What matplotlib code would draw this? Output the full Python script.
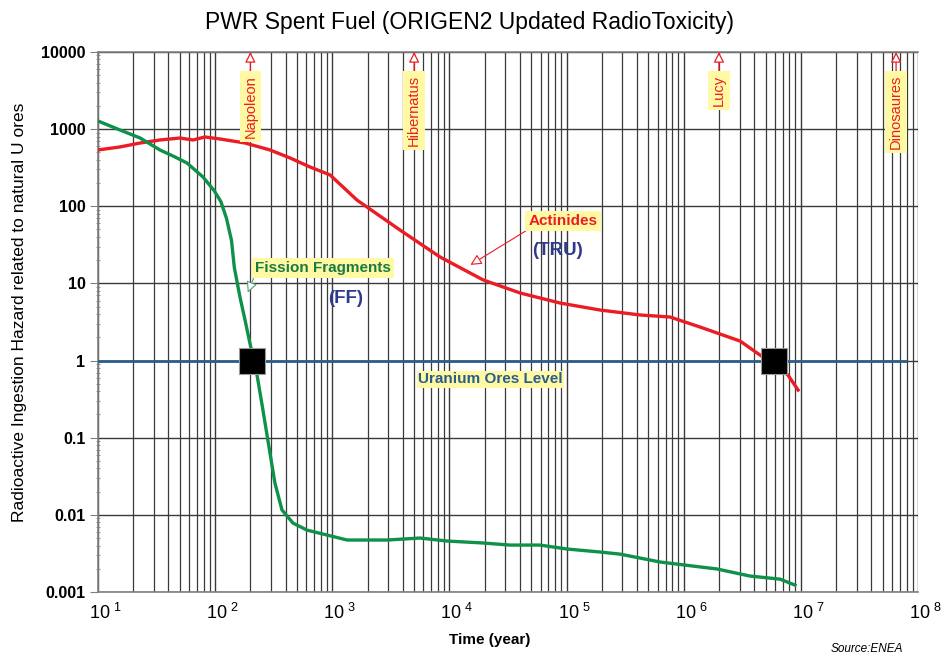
import matplotlib
matplotlib.use("Agg")
import numpy
from matplotlib import pyplot
from matplotlib.ticker import LogLocator, NullFormatter
from matplotlib.transforms import ScaledTranslation

pyplot.rcParams['font.family'] = ['Liberation Sans', 'DejaVu Sans']
pyplot.rcParams['mathtext.fontset'] = 'custom'
pyplot.rcParams['mathtext.rm'] = 'Liberation Sans'
pyplot.rcParams['mathtext.bf'] = 'Liberation Sans:bold'

# -----------------------------------------------------------------------------
# radiotoxicity data (years, hazard relative to natural U ores)
tru_years = [10, 15.4, 22.9, 33.8, 50.1, 64.7, 81.8, 110, 180, 294, 436, 646,
             957, 1630, 3780, 8320, 19400, 40100, 87900, 193000, 424000,
             764000, 1.38e6, 3.03e6, 4.48e6, 7.76e6, 9.47e6]
tru_hazard = [537, 587, 661, 723, 767, 723, 791, 745, 661, 537, 423, 323,
              255, 120, 49.3, 22.0, 11.1, 7.52, 5.57, 4.52, 3.90,
              3.67, 2.72, 1.79, 1.18, 0.65, 0.415]

ff_years = [10, 15.4, 22.9, 33.8, 45.4, 57.5, 78.7, 98, 112, 125, 138, 146,
            163, 180, 198, 228, 256, 294, 324, 372, 462, 608, 902, 1340,
            2930, 5610, 9530, 19400, 32900, 59300, 101000, 193000, 286000,
            628000, 1.2e6, 1.92e6, 3.68e6, 6.64e6, 8.91e6]
ff_hazard = [1276, 975, 767, 537, 436, 364, 240, 160, 115, 70, 36, 16,
             6.67, 3.36, 1.69, 0.65, 0.229, 0.0634, 0.0259, 0.0116, 0.00783,
             0.00635, 0.00548, 0.00472, 0.00472, 0.00501, 0.00458, 0.00432,
             0.00406, 0.00406, 0.00361, 0.00330, 0.00310, 0.00245, 0.00217,
             0.00199, 0.00161, 0.00147, 0.00123]

ore_level = 1.0
ore_range = [10, 7.8e7]
crossing_years = [206, 5.9e6]

# historical markers
events = ['Napoleon', 'Hibernatus', 'Lucy', 'Dinosaures']
event_years = [200, 5000, 2.0e6, 6.5e7]

x_decades = [1, 2, 3, 4, 5, 6, 7, 8]
y_ticks = [0.001, 0.01, 0.1, 1, 10, 100, 1000, 10000]
y_labels = ['0.001', '0.01', '0.1', '1', '10', '100', '1000', '10000']

red = '#ec1c24'
green = '#0e9148'
blue = '#2a5d8c'
navy = '#2e3a8c'
yellow = '#fff9a3'

# -----------------------------------------------------------------------------
fig = pyplot.figure(figsize=(9.51, 6.57), dpi=100)
ax = fig.add_axes([0.1030, 0.0989, 0.8623, 0.8220])

ax.set_xscale('log')
ax.set_yscale('log')
ax.set_xlim(10, 1e8)
ax.set_ylim(0.001, 10000)

# grid: every x line, only decades on y
ax.xaxis.set_major_locator(LogLocator(base=10, numticks=20))
ax.xaxis.set_minor_locator(LogLocator(base=10, subs=numpy.arange(2, 10), numticks=100))
ax.yaxis.set_minor_locator(LogLocator(base=10, subs=numpy.arange(2, 10), numticks=100))
ax.xaxis.set_minor_formatter(NullFormatter())
ax.yaxis.set_minor_formatter(NullFormatter())
ax.grid(which='major', axis='both', color='#3a3a3a', linewidth=1.0)
ax.grid(which='minor', axis='x', color='#3a3a3a', linewidth=0.9)
ax.set_axisbelow(True)

for side in ['top', 'left', 'bottom', 'right']:
    ax.spines[side].set_color('#808080')
    ax.spines[side].set_linewidth(1.2)
ax.spines['right'].set_visible(False)

ax.set_yticks(y_ticks)
ax.set_yticklabels(y_labels, fontsize=11.5, fontweight='bold')
ax.tick_params(axis='y', which='major', length=6, color='#808080', pad=3)
ax.tick_params(axis='y', which='minor', length=3, direction='inout', color='#808080')
ax.tick_params(axis='x', which='both', length=0, pad=8)

ax.set_xticks([10.0 ** k for k in x_decades])
ax.set_xticklabels([r'$\mathregular{10^{\ %d}}$' % k for k in x_decades], fontsize=13)
shift = ScaledTranslation(-0.09, 0, fig.dpi_scale_trans)
for lab in ax.get_xticklabels():
    lab.set_ha('left')
    lab.set_transform(lab.get_transform() + shift)

# curves
ax.plot(ore_range, [ore_level, ore_level], color=blue, linewidth=2.0, zorder=3)
ax.plot(tru_years, tru_hazard, color=red, linewidth=2.4, zorder=4)
ax.plot(ff_years, ff_hazard, color=green, linewidth=2.4, zorder=4)
ax.plot(crossing_years, [ore_level] * 2, 's', color='black', markersize=18.5,
        markeredgecolor='#9a9a9a', markeredgewidth=0.8, zorder=5)

# historical time markers along the top
for name, yr in zip(events, event_years):
    ax.annotate(name, xy=(yr, 10000), xytext=(yr, 10 ** 3.70),
                rotation=90, ha='center', va='top', color=red, fontsize=10.5,
                bbox=dict(boxstyle='square,pad=0.25', fc=yellow, ec='none'),
                arrowprops=dict(arrowstyle='-|>,head_length=0.6,head_width=0.3',
                                fc='white', ec=red, lw=0.9, shrinkA=0, shrinkB=0),
                zorder=6)

# curve labels
ax.annotate('Fission Fragments', xy=(190, 10 ** 0.88), xytext=(10 ** 2.34, 10 ** 1.20),
            ha='left', va='center', color='#1a7a44', fontsize=11, fontweight='bold',
            bbox=dict(boxstyle='square,pad=0.2', fc=yellow, ec='none'),
            arrowprops=dict(arrowstyle='-|>,head_length=0.6,head_width=0.3',
                            fc='white', ec='#5f9a7c', lw=0.8, relpos=(0.0, 0.0),
                            shrinkA=0, shrinkB=0),
            zorder=6)
ax.text(10 ** 3.11, 10 ** 0.80, '(FF)', ha='center', va='center', color=navy,
        fontsize=13.5, fontweight='bold', zorder=6)

ax.annotate('Actinides', xy=(10 ** 4.18, 10 ** 1.24), xytext=(10 ** 4.97, 10 ** 1.81),
            ha='center', va='center', color=red, fontsize=11, fontweight='bold',
            bbox=dict(boxstyle='square,pad=0.2', fc=yellow, ec='none'),
            arrowprops=dict(arrowstyle='-|>,head_length=0.6,head_width=0.3',
                            fc='white', ec=red, lw=0.8, relpos=(0.03, 0.0),
                            shrinkA=0, shrinkB=0),
            zorder=6)
ax.text(10 ** 4.92, 10 ** 1.43, '(TRU)', ha='center', va='center', color=navy,
        fontsize=13.5, fontweight='bold', zorder=6)

ax.text(10 ** 4.35, 10 ** -0.24, 'Uranium Ores Level', ha='center', va='center',
        color=blue, fontsize=11, fontweight='bold', zorder=6,
        bbox=dict(boxstyle='square,pad=0.1', fc=yellow, ec='none'))

# titles
fig.text(0.494, 0.966, 'PWR Spent Fuel (ORIGEN2 Updated RadioToxicity)',
         ha='center', va='center', fontsize=16.5)
fig.text(0.021, 0.525, 'Radioactive Ingestion Hazard related to natural U ores',
         rotation=90, ha='center', va='center', fontsize=12.5)
fig.text(0.515, 0.026, 'Time (year)', ha='center', va='center', fontsize=11,
         fontweight='bold')
fig.text(0.873, 0.003, 'Source:ENEA', ha='left', va='bottom', fontsize=8.5,
         style='italic')

fig.savefig('out.png', dpi=100)
